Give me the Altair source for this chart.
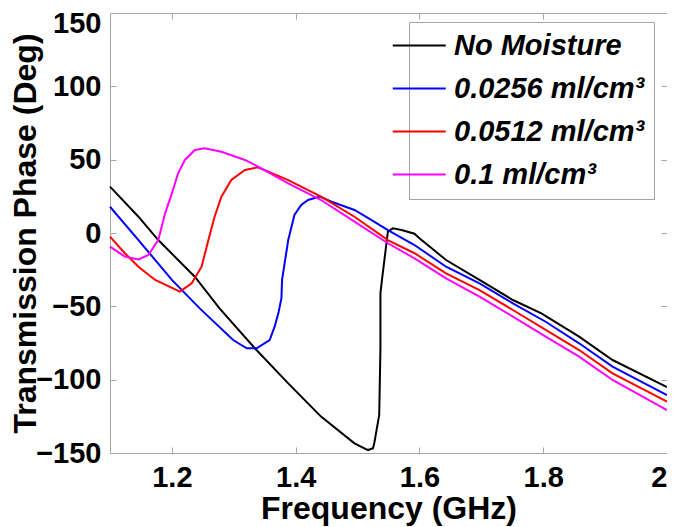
import altair as alt
import pandas as pd

series_names = ["No Moisture", "0.0256 ml/cm³", "0.0512 ml/cm³", "0.1 ml/cm³"]
series_colors = ["#000000", "#0000ff", "#ff0000", "#ff00ff"]

freq_dry = [1.100, 1.146, 1.178, 1.237, 1.277, 1.334, 1.388, 1.441, 1.495, 1.517,
            1.525, 1.527, 1.535, 1.537, 1.537, 1.540, 1.549, 1.557, 1.571, 1.592,
            1.600, 1.643, 1.697, 1.751, 1.797, 1.858, 1.912, 2.000]
phase_dry = [31.6, 11.1, -4.8, -29.8, -51.4, -78.6, -102.5, -125.2, -143.4, -148.0,
             -146.8, -143.4, -124.0, -77.5, -41.0, -30.0, 0.9, 3.2, 2.0, -0.5,
             -3.6, -18.4, -32.0, -45.7, -54.8, -70.7, -86.6, -105.0]

freq_0256 = [1.100, 1.146, 1.200, 1.245, 1.299, 1.321, 1.337, 1.358, 1.366, 1.372,
             1.377, 1.378, 1.388, 1.398, 1.409, 1.420, 1.439, 1.458, 1.495, 1.522,
             1.549, 1.592, 1.643, 1.697, 1.751, 1.804, 1.858, 1.912, 2.000]
phase_0256 = [17.9, -4.8, -32.0, -51.4, -73.0, -78.6, -78.6, -73.0, -63.9, -54.8,
              -44.5, -32.0, -4.8, 12.3, 19.1, 22.5, 24.8, 21.3, 15.7, 8.9,
              2.0, -8.2, -23.0, -34.3, -48.0, -60.5, -75.2, -91.1, -110.5]

freq_0512 = [1.100, 1.124, 1.146, 1.173, 1.213, 1.232, 1.248, 1.259, 1.269, 1.280,
             1.296, 1.318, 1.339, 1.388, 1.441, 1.495, 1.549, 1.592, 1.643, 1.697,
             1.751, 1.804, 1.858, 1.912, 2.000]
phase_0512 = [-2.5, -13.8, -23.0, -32.0, -40.0, -34.3, -23.0, -4.8, 11.1, 24.8,
              36.1, 43.0, 44.8, 36.1, 24.8, 11.1, -4.8, -13.8, -27.5, -38.9,
              -52.5, -66.1, -79.8, -95.7, -115.0]

freq_01 = [1.100, 1.124, 1.146, 1.162, 1.178, 1.189, 1.200, 1.210, 1.221, 1.237,
           1.253, 1.280, 1.318, 1.334, 1.388, 1.441, 1.495, 1.549, 1.592, 1.643,
           1.697, 1.751, 1.804, 1.858, 1.912, 2.000]
phase_01 = [-9.3, -16.1, -18.0, -15.0, -4.8, 13.4, 27.0, 40.7, 49.8, 56.6,
            57.7, 55.4, 49.8, 46.4, 33.9, 22.5, 7.7, -7.0, -17.3, -30.9,
            -43.4, -57.0, -70.7, -84.3, -100.2, -120.7]

x_ticks = [1.2, 1.4, 1.6, 1.8, 2.0]
y_ticks = [-150, -100, -50, 0, 50, 100, 150]

rows = []
for name, fs, ps in zip(series_names,
                        [freq_dry, freq_0256, freq_0512, freq_01],
                        [phase_dry, phase_0256, phase_0512, phase_01]):
    for i, (f, p) in enumerate(zip(fs, ps)):
        rows.append({"series": name, "freq": f, "phase": p, "idx": i})
df = pd.DataFrame(rows)

FONT = "Liberation Sans"
GRAY = "#a6a6a6"

x_scale = alt.Scale(domain=[1.1, 2.0], nice=False, zero=False)
y_scale = alt.Scale(domain=[-150, 150], nice=False, zero=False)

tick_style = dict(grid=False, domain=False, ticks=True, tickSize=6, offset=-6,
                  tickColor=GRAY, tickWidth=1)

main = alt.Chart(df).mark_line(strokeWidth=2).encode(
    x=alt.X("freq:Q", scale=x_scale,
            axis=alt.Axis(orient="bottom", values=x_ticks, format="~g",
                          title="Frequency (GHz)", labelFont=FONT, labelFontSize=29,
                          labelFontWeight="bold", labelColor="black", labelPadding=10,
                          labelFlush=True, titleFont=FONT, titleFontSize=32,
                          titleFontWeight="bold", titleColor="black", titlePadding=1,
                          **tick_style)),
    y=alt.Y("phase:Q", scale=y_scale,
            axis=alt.Axis(orient="left", values=y_ticks,
                          title="Transmission Phase (Deg)", labelFont=FONT, labelFontSize=29,
                          labelFontWeight="bold", labelColor="black", labelPadding=9,
                          labelOffset={"condition": {"test": "datum.value == 150", "value": 10}, "value": 0},
                          titleFont=FONT, titleFontSize=32, titleFontWeight="bold",
                          titleColor="black", titlePadding=-7, **tick_style)),
    color=alt.Color("series:N",
                    scale=alt.Scale(domain=series_names, range=series_colors),
                    legend=alt.Legend(title=None, orient="none", legendX=299, legendY=9,
                                      symbolType="M-3,0L1,0", symbolSize=702,
                                      symbolStrokeWidth=2, symbolFillColor="transparent",
                                      labelFont=FONT,
                                      labelFontSize=29, labelFontWeight="bold",
                                      labelFontStyle="italic", labelColor="black",
                                      labelLimit=400, labelOffset=7, padding=9,
                                      rowPadding=13, strokeColor=GRAY, fillColor="white")),
    order=alt.Order("idx:Q"),
)

frame = alt.Chart(df).mark_line(opacity=0).encode(
    x=alt.X("freq:Q", scale=x_scale,
            axis=alt.Axis(orient="top", values=x_ticks, labels=False, title=None, **tick_style)),
    y=alt.Y("phase:Q", scale=y_scale,
            axis=alt.Axis(orient="right", values=y_ticks, labels=False, title=None, **tick_style)),
    detail="series:N",
    order=alt.Order("idx:Q"),
)

chart = alt.layer(main, frame).resolve_axis(
    x="independent", y="independent"
).properties(
    width=557, height=440,
    autosize=alt.AutoSizeParams(type="none"),
    padding={"left": 102, "top": 5, "right": 0, "bottom": 74},
    background="white",
).configure_view(stroke=GRAY, strokeWidth=1)

chart.save("out.html", embed_options={"renderer": "svg", "actions": False})
